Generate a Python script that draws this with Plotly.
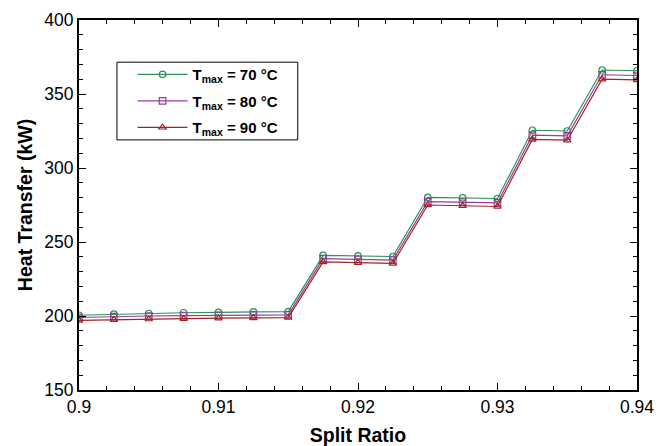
import plotly.graph_objects as go

split_ratio = [0.9, 0.9025, 0.905, 0.9075, 0.91, 0.9125, 0.915, 0.9175, 0.92,
               0.9225, 0.925, 0.9275, 0.93, 0.9325, 0.935, 0.9375, 0.94]
q_70 = [200.5, 201.2, 201.7, 202.2, 202.5, 202.8, 203.0, 241.0, 240.6, 240.2,
        280.2, 279.8, 279.4, 325.5, 325.0, 366.2, 365.7]
q_80 = [199.0, 199.6, 200.0, 200.3, 200.5, 200.7, 200.8, 238.7, 238.3, 237.8,
        277.3, 276.9, 276.5, 322.2, 321.7, 363.0, 362.5]
q_90 = [197.0, 197.5, 197.9, 198.2, 198.5, 198.7, 198.9, 236.5, 236.0, 235.5,
        275.0, 274.5, 274.0, 319.3, 318.8, 360.0, 359.5]

x_tickvals = [0.9, 0.91, 0.92, 0.93, 0.94]
x_ticktext = ["0.9", "0.91", "0.92", "0.93", "0.94"]

series_names = ["T<sub>max</sub> = 70 °C", "T<sub>max</sub> = 80 °C", "T<sub>max</sub> = 90 °C"]
colors = ["#2a9255", "#9c3aa0", "#a02424"]
symbols = ["circle-open", "square-open", "triangle-up-open"]

fig = go.Figure()
for i, (name, ys, c, s) in enumerate(zip(series_names, [q_70, q_80, q_90], colors, symbols)):
    fig.add_trace(go.Scatter(
        x=split_ratio, y=ys, mode="lines+markers", name=name,
        legendgroup=f"g{i}",
        line=dict(color=c, width=1.2),
        marker=dict(symbol=s, size=6.5, color=c, line=dict(color=c, width=1.2)),
    ))

font_family = "Liberation Sans, Arial, sans-serif"
axis_common = dict(
    showline=True, linecolor="black", linewidth=2.2, mirror="ticks",
    ticks="inside", ticklen=7, tickwidth=1, tickcolor="black",
    showgrid=False, zeroline=False, automargin=False,
    tickfont=dict(family=font_family, size=17.5, color="black"),
)

fig.update_xaxes(
    range=[0.9, 0.94], tickvals=x_tickvals, ticktext=x_ticktext,
    minor=dict(ticks="inside", ticklen=4, dtick=0.002, tickcolor="black", tickwidth=1),
    title=dict(text="<b>Split Ratio</b>", font=dict(family=font_family, size=19.5, color="black"), standoff=12),
    **axis_common,
)
fig.update_yaxes(
    range=[150, 400], dtick=50,
    minor=dict(ticks="inside", ticklen=4, dtick=10, tickcolor="black", tickwidth=1),
    title=dict(text="<b>Heat Transfer (kW)</b>", font=dict(family=font_family, size=19.5, color="black"), standoff=6),
    **axis_common,
)

# legend frame (drawn as a shape to match the reference box size)
fig.add_shape(type="rect", xref="paper", yref="paper",
              x0=0.068, x1=0.392, y0=0.676, y1=0.886,
              line=dict(color="black", width=1), fillcolor="white", layer="below")

fig.update_layout(
    width=660, height=438,
    margin=dict(l=71, r=31, t=12, b=56),
    plot_bgcolor="white", paper_bgcolor="white",
    showlegend=True,
    legend=dict(
        x=0.096, y=0.897, xanchor="left", yanchor="top",
        borderwidth=0, bgcolor="rgba(0,0,0,0)",
        font=dict(family=font_family, size=15, color="black", weight="bold"),
        tracegroupgap=4, itemwidth=50,
    ),
)

fig.write_html("out.html")
